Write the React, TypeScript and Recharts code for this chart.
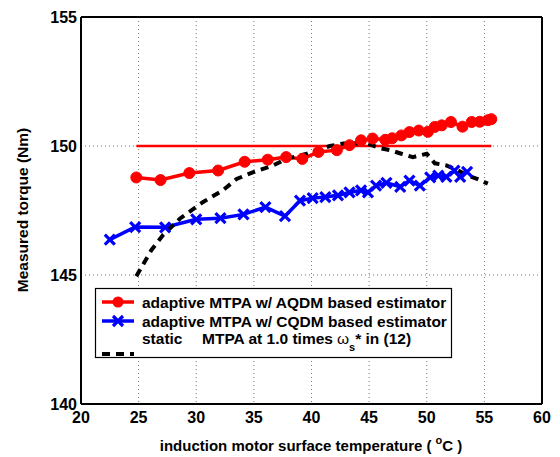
import React from 'react';
import { LineChart, Line, XAxis, YAxis, CartesianGrid, ReferenceLine } from 'recharts';

// adaptive MTPA w/ AQDM based estimator
const aqdmTemp = [24.8, 26.9, 29.4, 31.9, 34.2, 36.2, 37.8, 39.2, 40.6, 42.2, 43.3, 44.3, 45.3, 46.4, 47.0, 47.8, 48.5, 49.3, 50.1, 50.7, 51.3, 52.1, 53.1, 53.9, 54.6, 55.3, 55.6];
const aqdmTorque = [148.78, 148.68, 148.95, 149.05, 149.39, 149.47, 149.57, 149.5, 149.77, 149.84, 150.03, 150.22, 150.29, 150.24, 150.3, 150.41, 150.54, 150.6, 150.55, 150.74, 150.8, 150.93, 150.75, 150.93, 150.94, 151.0, 151.04];

// adaptive MTPA w/ CQDM based estimator
const cqdmTemp = [22.5, 24.7, 27.3, 30.0, 32.1, 34.1, 36.0, 37.7, 39.0, 40.1, 41.2, 42.3, 43.3, 44.3, 44.9, 45.6, 46.5, 47.7, 48.5, 49.4, 50.3, 51.0, 51.7, 52.4, 52.9, 53.5];
const cqdmTorque = [146.37, 146.86, 146.85, 147.16, 147.2, 147.35, 147.63, 147.28, 147.88, 147.98, 148.02, 148.09, 148.2, 148.28, 148.2, 148.46, 148.57, 148.42, 148.66, 148.46, 148.78, 148.85, 148.8, 149.05, 148.8, 149.0];

// static MTPA at 1.0 times ws* in (12)
const staticTemp = [24.8, 26.1, 27.1, 28.6, 30.6, 32.3, 33.5, 34.9, 36.7, 37.8, 39.6, 41.6, 42.8, 44.8, 45.9, 46.8, 47.8, 48.8, 50.0, 50.7, 51.7, 52.6, 53.5, 54.3, 55.3];
const staticTorque = [144.95, 145.96, 146.54, 147.19, 147.83, 148.28, 148.72, 148.98, 149.25, 149.5, 149.7, 150.0, 150.1, 150.1, 149.92, 149.84, 149.7, 149.57, 149.7, 149.33, 149.25, 149.08, 148.87, 148.74, 148.54];

// reference torque
const refTemp = [24.8, 55.6];
const refTorque = [150, 150];

const xTicks = [20, 25, 30, 35, 40, 45, 50, 55, 60];
const yTicks = [140, 145, 150, 155];

const toPoints = (xs: number[], ys: number[]) => xs.map((x, i) => ({ temp: x, torque: ys[i] }));

const FONT = '"Liberation Sans", Arial, Helvetica, sans-serif';
const RED = '#ff0000';
const BLUE = '#0000ff';

const CrossDot = (props: any) => {
  const { cx, cy, index } = props;
  if (cx == null || cy == null) return <g key={index} />;
  return (
    <path
      key={index}
      d={`M${cx - 5},${cy - 5}L${cx + 5},${cy + 5}M${cx - 5},${cy + 5}L${cx + 5},${cy - 5}`}
      stroke={BLUE}
      strokeWidth={3.2}
      fill="none"
    />
  );
};

const tickStyle = { fill: '#000', fontSize: 16, fontWeight: 'bold', fontFamily: FONT };

export default function App() {
  return (
    <div style={{ position: 'absolute', left: 0, top: 0, width: 560, height: 457, background: '#fff' }}>
      <LineChart width={560} height={457} margin={{ top: 17, right: 18, bottom: 0, left: 0 }}>
        <CartesianGrid stroke="#777" strokeDasharray="1 3" />
        <XAxis
          type="number"
          dataKey="temp"
          domain={[20, 60]}
          ticks={xTicks}
          height={53}
          tickLine={false}
          axisLine={{ stroke: '#000', strokeWidth: 2 }}
          tick={tickStyle}
          allowDataOverflow
        />
        <YAxis
          type="number"
          dataKey="torque"
          domain={[140, 155]}
          ticks={yTicks}
          width={81}
          tickLine={false}
          tickSize={4}
          tickMargin={0}
          axisLine={{ stroke: '#000', strokeWidth: 2 }}
          tick={tickStyle}
          allowDataOverflow
        />
        <ReferenceLine y={155} stroke="#000" strokeWidth={2} />
        <ReferenceLine x={60} stroke="#000" strokeWidth={2} />
        <Line
          data={toPoints(refTemp, refTorque)}
          dataKey="torque"
          stroke={RED}
          strokeWidth={2.5}
          dot={false}
          isAnimationActive={false}
        />
        <Line
          data={toPoints(aqdmTemp, aqdmTorque)}
          dataKey="torque"
          stroke={RED}
          strokeWidth={3.5}
          dot={{ r: 5.5, fill: RED, stroke: RED, strokeWidth: 1 }}
          isAnimationActive={false}
        />
        <Line
          data={toPoints(cqdmTemp, cqdmTorque)}
          dataKey="torque"
          stroke={BLUE}
          strokeWidth={3.5}
          dot={CrossDot}
          isAnimationActive={false}
        />
        <Line
          data={toPoints(staticTemp, staticTorque)}
          dataKey="torque"
          stroke="#000"
          strokeWidth={4}
          strokeDasharray="8 6"
          dot={false}
          isAnimationActive={false}
        />
      </LineChart>

      <svg
        width={560}
        height={457}
        style={{ position: 'absolute', left: 0, top: 0, pointerEvents: 'none' }}
        fontFamily={FONT}
        fontWeight="bold"
      >
        {/* axis titles */}
        <text x={311} y={451} fontSize={15} textAnchor="middle" fill="#000">
          induction motor surface temperature (
          <tspan dx={4} dy={-7} fontSize={11}>o</tspan>
          <tspan dy={7}>C )</tspan>
        </text>
        <text transform="translate(28,210) rotate(-90)" fontSize={15.5} textAnchor="middle" fill="#000">
          Measured torque (Nm)
        </text>

        {/* legend */}
        <rect x={95.5} y={288.5} width={356} height={69} fill="#fff" stroke="#000" strokeWidth={1.2} />
        <line x1={102} y1={302} x2={134} y2={302} stroke={RED} strokeWidth={3.5} />
        <circle cx={118} cy={302} r={5.5} fill={RED} />
        <text x={142} y={307.5} fontSize={15.5} fill="#000">adaptive MTPA w/ AQDM based estimator</text>

        <line x1={102} y1={321} x2={134} y2={321} stroke={BLUE} strokeWidth={3.5} />
        <path d="M113,316L123,326M113,326L123,316" stroke={BLUE} strokeWidth={3.2} />
        <text x={142} y={326.5} fontSize={15.5} fill="#000">adaptive MTPA w/ CQDM based estimator</text>

        <line x1={102} y1={354} x2={134} y2={354} stroke="#000" strokeWidth={4} strokeDasharray="8 6" />
        <text x={142} y={344} fontSize={15.5} fill="#000">static</text>
        <text x={202} y={344} fontSize={15.5} fill="#000">
          MTPA at 1.0 times
          <tspan dx={4} fontWeight="normal">ω</tspan>
          <tspan dy={7} fontSize={11}>s</tspan>
          <tspan dy={-7}>* in (12)</tspan>
        </text>
      </svg>
    </div>
  );
}
